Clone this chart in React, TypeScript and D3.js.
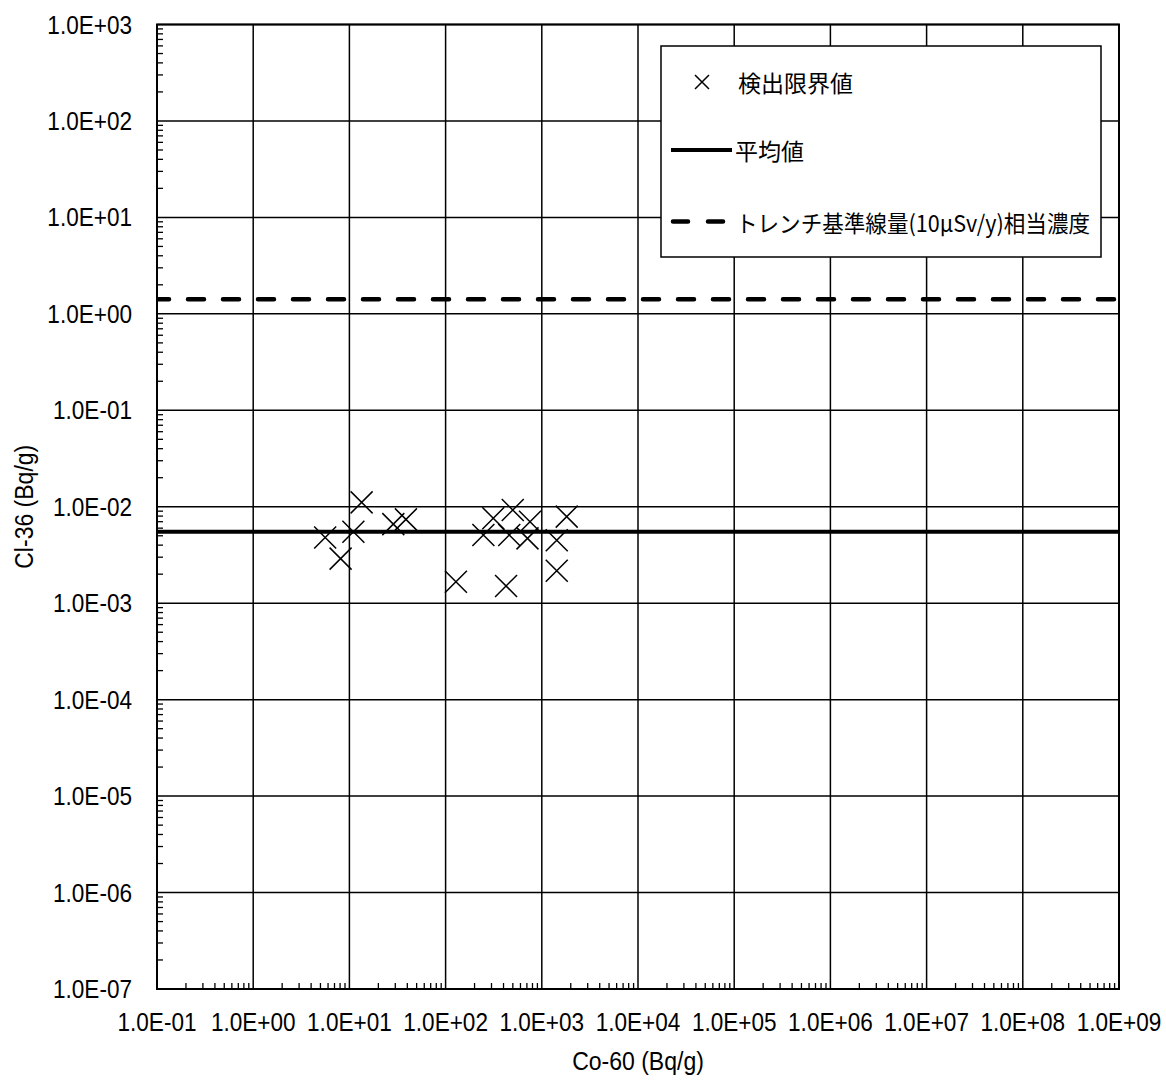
import React from "react";
import * as d3 from "d3";

// Co-60 vs Cl-36 detection-limit values (Bq/g)
const co60 = [5.6, 8.1, 13.4, 11.0, 28.6, 38.7, 128, 247, 313, 499, 459, 425, 754, 710, 1815, 1430, 1430];
const cl36 = [4.8e-3, 2.9e-3, 1.11e-2, 5.5e-3, 6.6e-3, 7.4e-3, 1.67e-3, 5.1e-3, 7.6e-3, 9.25e-3, 5.1e-3, 1.51e-3, 7.0e-3, 4.7e-3, 7.9e-3, 4.5e-3, 2.17e-3];

const meanValue = 5.5e-3;
const trenchLimit = 1.42;

const xDecades = d3.range(-1, 10); // 1E-01 .. 1E+09
const yDecades = d3.range(-7, 4); // 1E-07 .. 1E+03

const legendLabels = ["検出限界値", "平均値", "トレンチ基準線量(10μSv/y)相当濃度"];
const xTitle = "Co-60 (Bq/g)";
const yTitle = "Cl-36 (Bq/g)";

const W = 1166;
const H = 1080;
const left = 157, right = 1119, top = 24.5, bottom = 989;
const squeeze = 0.885; // the source fonts are horizontally condensed

const fmt = (e: number) => `1.0E${e < 0 ? "-" : "+"}${String(Math.abs(e)).padStart(2, "0")}`;

const minors = (decades: number[]) =>
  decades.slice(0, -1).flatMap(e => d3.range(2, 10).map(k => k * Math.pow(10, e)));

const Cross = ({ cx, cy, r, w }: { cx: number; cy: number; r: number; w: number }) => (
  <path d={`M${cx - r},${cy - r}L${cx + r},${cy + r}M${cx - r},${cy + r}L${cx + r},${cy - r}`}
    stroke="#000" strokeWidth={w} fill="none" />
);

const font = "'Liberation Sans', Arial, sans-serif";
const jp = "'Noto Sans CJK JP', sans-serif";

const Label = ({ x, y, anchor, size, rotate = 0, children }:
  { x: number; y: number; anchor: string; size: number; rotate?: number; children: React.ReactNode }) => (
  <text transform={`translate(${x},${y}) rotate(${rotate}) scale(${squeeze},1)`} textAnchor={anchor}
    fontFamily={font} fontSize={size} fill="#000">{children}</text>
);

export default function App() {
  const x = d3.scaleLog().domain([1e-1, 1e9]).range([left, right]);
  const y = d3.scaleLog().domain([1e-7, 1e3]).range([bottom, top]);

  const lg = { x: 661, y: 46, w: 440, h: 211 };

  return (
    <div style={{ position: "absolute", left: 0, top: 0 }}>
      <svg width={W} height={H} style={{ display: "block", background: "#fff" }}>
        <defs>
          <clipPath id="plot">
            <rect x={left} y={top} width={right - left} height={bottom - top} />
          </clipPath>
        </defs>

        {/* grid */}
        {xDecades.map(e => (
          <line key={"gx" + e} x1={x(Math.pow(10, e))} x2={x(Math.pow(10, e))} y1={top} y2={bottom}
            stroke="#000" strokeWidth={1.5} />
        ))}
        {yDecades.map(e => (
          <line key={"gy" + e} y1={y(Math.pow(10, e))} y2={y(Math.pow(10, e))} x1={left} x2={right}
            stroke="#000" strokeWidth={1.5} />
        ))}

        {/* minor ticks */}
        {minors(xDecades).map((v, i) => (
          <line key={"mx" + i} x1={x(v)} x2={x(v)} y1={bottom} y2={bottom - 6} stroke="#000" strokeWidth={1.3} />
        ))}
        {minors(yDecades).map((v, i) => (
          <line key={"my" + i} y1={y(v)} y2={y(v)} x1={left} x2={left + 6} stroke="#000" strokeWidth={1.3} />
        ))}

        <rect x={left} y={top} width={right - left} height={bottom - top} fill="none" stroke="#000" strokeWidth={2} />

        {/* reference lines */}
        <g clipPath="url(#plot)">
          <line x1={left} x2={right} y1={y(meanValue)} y2={y(meanValue)} stroke="#000" strokeWidth={4} />
          <line x1={left - 4} x2={right} y1={y(trenchLimit)} y2={y(trenchLimit)} stroke="#000" strokeWidth={4.5}
            strokeDasharray="16 19" strokeLinecap="round" />
        </g>

        {/* points */}
        {co60.map((v, i) => (
          <Cross key={"p" + i} cx={x(v)} cy={y(cl36[i])} r={11} w={1.5} />
        ))}

        {/* tick labels */}
        {yDecades.map(e => (
          <Label key={"ty" + e} x={132} y={y(Math.pow(10, e)) + 9} anchor="end" size={25.5}>{fmt(e)}</Label>
        ))}
        {xDecades.map(e => (
          <Label key={"tx" + e} x={x(Math.pow(10, e))} y={1031} anchor="middle" size={25.5}>{fmt(e)}</Label>
        ))}

        {/* axis titles */}
        <Label x={(left + right) / 2} y={1070} anchor="middle" size={26}>{xTitle}</Label>
        <Label x={33} y={(top + bottom) / 2} anchor="middle" size={26} rotate={-90}>{yTitle}</Label>

        {/* legend */}
        <rect x={lg.x} y={lg.y} width={lg.w} height={lg.h} fill="#fff" stroke="#000" strokeWidth={1.5} />
        <Cross cx={702} cy={82} r={7} w={1.5} />
        <text x={738} y={82} dominantBaseline="central" fontFamily={jp} fontSize={23}>{legendLabels[0]}</text>
        <line x1={671} x2={732} y1={150} y2={150} stroke="#000" strokeWidth={4} />
        <text x={735} y={150} dominantBaseline="central" fontFamily={jp} fontSize={23}>{legendLabels[1]}</text>
        <line x1={673} x2={726} y1={221.5} y2={221.5} stroke="#000" strokeWidth={4.5}
          strokeDasharray="15 20" strokeLinecap="round" />
        <text x={736} y={221.5} dominantBaseline="central" fontFamily={jp} fontSize={23}
          textLength={354} lengthAdjust="spacingAndGlyphs">{legendLabels[2]}</text>
      </svg>
    </div>
  );
}
